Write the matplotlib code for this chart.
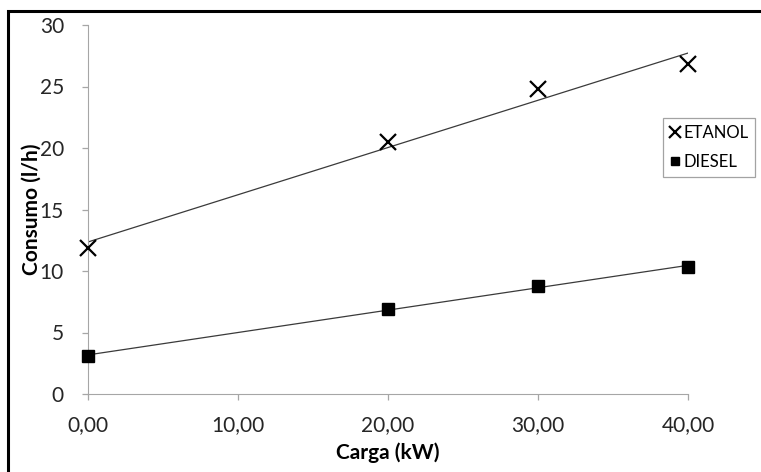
import matplotlib.pyplot as plt
import numpy as np
from matplotlib.patches import Rectangle
from matplotlib.ticker import FuncFormatter

carga = [0, 20, 30, 40]
etanol = [11.9, 20.5, 24.8, 26.8]
diesel = [3.1, 6.9, 8.8, 10.3]

plt.rcParams['font.family'] = ['Lato', 'DejaVu Sans']

fig = plt.figure(figsize=(7.61, 4.72), dpi=100)
ax = fig.add_axes([88/761, 1 - 394/472, 600/761, 369/472])

# linhas de tendencia (linear)
xs = np.array([0, 40])
for y in (etanol, diesel):
    a, b = np.polyfit(carga, y, 1)
    ax.plot(xs, a*xs + b, color='#3a3a3a', lw=0.9, zorder=2)

ax.plot(carga, etanol, ls='none', marker='x', ms=12, mew=1.6, color='black',
        label='ETANOL', clip_on=False, zorder=3)
ax.plot(carga, diesel, ls='none', marker='s', ms=8, color='black',
        label='DIESEL', clip_on=False, zorder=3)

ax.set_xlim(0, 40)
ax.set_ylim(0, 30)
ax.set_xticks([0, 10, 20, 30, 40])
ax.set_yticks([0, 5, 10, 15, 20, 25, 30])
ax.xaxis.set_major_formatter(FuncFormatter(lambda v, p: f'{v:.2f}'.replace('.', ',')))

for s in ('top', 'right'):
    ax.spines[s].set_visible(False)
for s in ('left', 'bottom'):
    ax.spines[s].set_color('#a6a6a6')
ax.tick_params(colors='#a6a6a6', labelcolor='#262626', labelsize=15,
               length=4.3, width=0.9)
ax.tick_params(axis='x', pad=11)
ax.tick_params(axis='y', pad=13)

ax.set_xlabel('Carga (kW)', fontsize=15, fontweight='bold', labelpad=5)
ax.set_ylabel('Consumo (l/h)', fontsize=15, fontweight='bold', labelpad=-1.5)

leg = ax.legend(loc='upper left', bbox_to_anchor=(0.958, 0.748), fontsize=12,
                frameon=True, fancybox=False, handlelength=0.7, handletextpad=0.15,
                borderpad=0.4, labelspacing=0.8, borderaxespad=0, markerscale=0.75)
leg.get_frame().set_edgecolor('#8c8c8c')
leg.get_frame().set_linewidth(0.9)

# moldura da figura
fig.patches.append(Rectangle((8/761, -0.05), 1.0, 1.05 - 11/472, transform=fig.transFigure,
                             fill=False, edgecolor='black', lw=2.2))

fig.savefig('out.png', dpi=100)
